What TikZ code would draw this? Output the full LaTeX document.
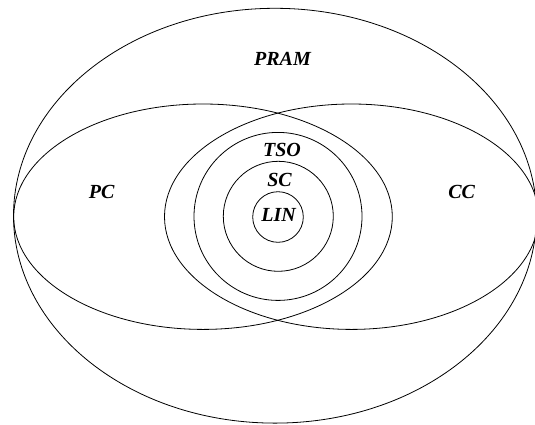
\documentclass[tikz,border=0pt]{standalone}
\usepackage{fontspec}
\setmainfont{Liberation Serif}
\begin{document}
\begin{tikzpicture}[x=1pt,y=-1pt,
  ring/.style={draw=black,line width=0.8pt},
  lbl/.style={anchor=base,inner sep=0pt,font=\fontsize{20}{22}\selectfont\bfseries\itshape}]
\useasboundingbox (0,0) rectangle (535,424);
\clip (0,0) rectangle (535,424);
\fill[white] (0,0) rectangle (535,424);
% outer PRAM ellipse
\draw[ring] (275,215.7) ellipse [x radius=261.5pt, y radius=207.4pt];
% PC and CC ellipses
\draw[ring] (203,216.7) ellipse [x radius=189.3pt, y radius=112.7pt];
\draw[ring] (351.5,216.7) ellipse [x radius=187pt, y radius=112.7pt];
% TSO, SC, LIN circles
\draw[ring] (278,216.4) circle [radius=84pt];
\draw[ring] (278.3,216.3) circle [radius=55pt];
\draw[ring] (278,217) circle [radius=25.3pt];
% labels
\node[lbl] (pram) at (282.5,65.3) {PRAM};
\node[lbl] (pc) at (101.7,198.3) {PC};
\node[lbl] (cc) at (461.7,198.3) {CC};
\node[lbl] (tso) at (282,156) {TSO};
\node[lbl] (sc) at (279.5,186.7) {SC};
\node[lbl] (lin) at (278.7,221.7) {LIN};
\end{tikzpicture}
\end{document}
